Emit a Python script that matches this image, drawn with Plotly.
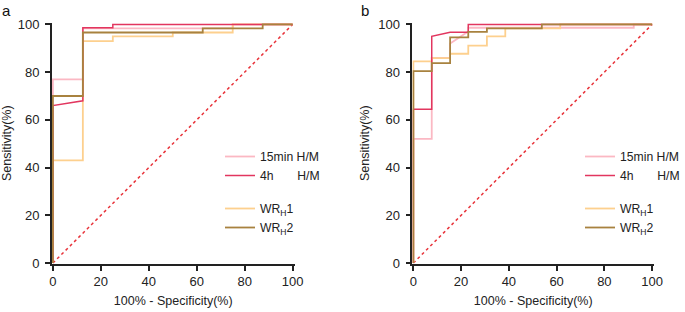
import plotly.graph_objects as go

# ---- data (100% - specificity, sensitivity) ----
a_15min_x = [0, 0, 12.5, 12.5, 75, 75, 100]
a_15min_y = [0, 77, 77, 98.3, 98.3, 100, 100]
a_4h_x = [0, 0, 12.5, 12.5, 25, 25, 100]
a_4h_y = [0, 66, 68, 98.6, 98.6, 100, 100]
a_wr1_x = [0, 0, 12.5, 12.5, 25, 25, 50, 50, 75, 75, 100]
a_wr1_y = [0, 43, 43, 93, 93, 95, 95, 96.6, 96.6, 100, 100]
a_wr2_x = [0, 0, 12.5, 12.5, 62.5, 62.5, 87.5, 87.5, 100]
a_wr2_y = [0, 70, 70, 96.6, 96.6, 98.3, 98.3, 100, 100]

b_15min_x = [0, 0, 7.7, 7.7, 15.4, 15.4, 23, 23, 92.3, 92.3, 100]
b_15min_y = [0, 52, 52, 86, 86, 92, 97, 98.6, 98.6, 100, 100]
b_4h_x = [0, 0, 7.7, 7.7, 15.4, 23, 23, 100]
b_4h_y = [0, 64.5, 64.5, 95, 96.7, 96.7, 100, 100]
b_wr1_x = [0, 0, 7.7, 7.7, 15.4, 15.4, 23, 23, 30.8, 30.8, 38.5, 38.5, 61.5, 61.5, 100]
b_wr1_y = [0, 84.5, 84.5, 85.9, 85.9, 87.7, 87.7, 91.1, 91.1, 95, 95, 98.3, 98.3, 100, 100]
b_wr2_x = [0, 0, 7.7, 7.7, 15.4, 15.4, 23, 23, 30.8, 30.8, 53.8, 53.8, 100]
b_wr2_y = [0, 80.4, 80.4, 83.8, 83.8, 94.6, 94.6, 96.9, 96.9, 98.3, 98.3, 100, 100]

ref_x = [0, 100]
ref_y = [0, 100]

names = ["15min H/M", "4h" + "\u00a0" * 7 + "H/M", "WR<sub>H</sub>1", "WR<sub>H</sub>2"]
colors = ["#FBB8C3", "#E2365F", "#FDD08E", "#A8823F"]
widths = [1.8, 1.5, 1.8, 1.8]
groups = ["hm", "hm", "wr", "wr"]
tick_vals = [0, 20, 40, 60, 80, 100]
tick_text = ["0", "20", "40", "60", "80", "100"]

FONT = "Arial, Liberation Sans, sans-serif"

W, H = 685, 312


def px(x):
    return x / W


def py(y):
    return 1 - y / H


fig = go.Figure()

panels = [
    ("x", "y", "legend", [(a_15min_x, a_15min_y), (a_4h_x, a_4h_y), (a_wr1_x, a_wr1_y), (a_wr2_x, a_wr2_y)]),
    ("x2", "y2", "legend2", [(b_15min_x, b_15min_y), (b_4h_x, b_4h_y), (b_wr1_x, b_wr1_y), (b_wr2_x, b_wr2_y)]),
]

for xa, ya, lg, series in panels:
    fig.add_trace(go.Scatter(x=ref_x, y=ref_y, mode="lines", xaxis=xa, yaxis=ya,
                             line=dict(color="#E8333A", width=1.5, dash="dot"),
                             showlegend=False, hoverinfo="skip"))
    order = [0, 2, 1, 3]
    for i in order:
        sx, sy = series[i]
        fig.add_trace(go.Scatter(x=sx, y=sy, mode="lines", xaxis=xa, yaxis=ya,
                                 name=names[i], legend=lg, legendgroup=groups[i],
                                 legendrank=i + 1,
                                 line=dict(color=colors[i], width=widths[i])))

axis_common = dict(
    range=[-0.4, 100.8], tickvals=tick_vals, ticktext=tick_text,
    showline=True, linecolor="#222", linewidth=1.5,
    ticks="outside", ticklen=5, tickwidth=1.5, tickcolor="#222",
    showgrid=False, zeroline=False, automargin=False,
    tickfont=dict(family=FONT, size=13, color="#222"),
)

ydom = [py(264), py(22.5)]
TF = dict(size=12.5, family=FONT, color="#222")
fig.update_layout(
    width=W, height=H,
    margin=dict(l=0, r=0, t=0, b=0),
    paper_bgcolor="white", plot_bgcolor="white",
    font=dict(family=FONT, size=12.2, color="#222"),
    xaxis=dict(domain=[px(52), px(295)], anchor="y", ticklabelstandoff=0,
               title=dict(text="100% - Specificity(%)", font=TF, standoff=8), **axis_common),
    yaxis=dict(domain=ydom, anchor="x", ticklabelstandoff=3,
               title=dict(text="Sensitivity(%)", font=TF, standoff=6), **axis_common),
    xaxis2=dict(domain=[px(413), px(655)], anchor="y2", ticklabelstandoff=0,
                title=dict(text="100% - Specificity(%)", font=TF, standoff=8), **axis_common),
    yaxis2=dict(domain=ydom, anchor="x2", ticklabelstandoff=3,
                title=dict(text="Sensitivity(%)", font=TF, standoff=6), **axis_common),
    legend=dict(x=px(220), y=py(142), xanchor="left", yanchor="top",
                bgcolor="rgba(0,0,0,0)", traceorder="grouped", tracegroupgap=14,
                font=dict(size=12.2)),
    legend2=dict(x=px(581), y=py(142), xanchor="left", yanchor="top",
                 bgcolor="rgba(0,0,0,0)", traceorder="grouped", tracegroupgap=14,
                 font=dict(size=12.2)),
    annotations=[
        dict(text="a", x=0, y=1, xref="paper", yref="paper",
             xanchor="left", yanchor="top", showarrow=False, font=dict(size=15, color="#111")),
        dict(text="b", x=px(360), y=1, xref="paper", yref="paper",
             xanchor="left", yanchor="top", showarrow=False, font=dict(size=15, color="#111")),
    ],
)

# remove the browser's default 8px body margin so the 685x312 figure fills the window exactly
fig.write_html("out.html", config={"displayModeBar": False},
               post_script="document.body.style.margin='0';document.body.style.overflow='hidden';")
